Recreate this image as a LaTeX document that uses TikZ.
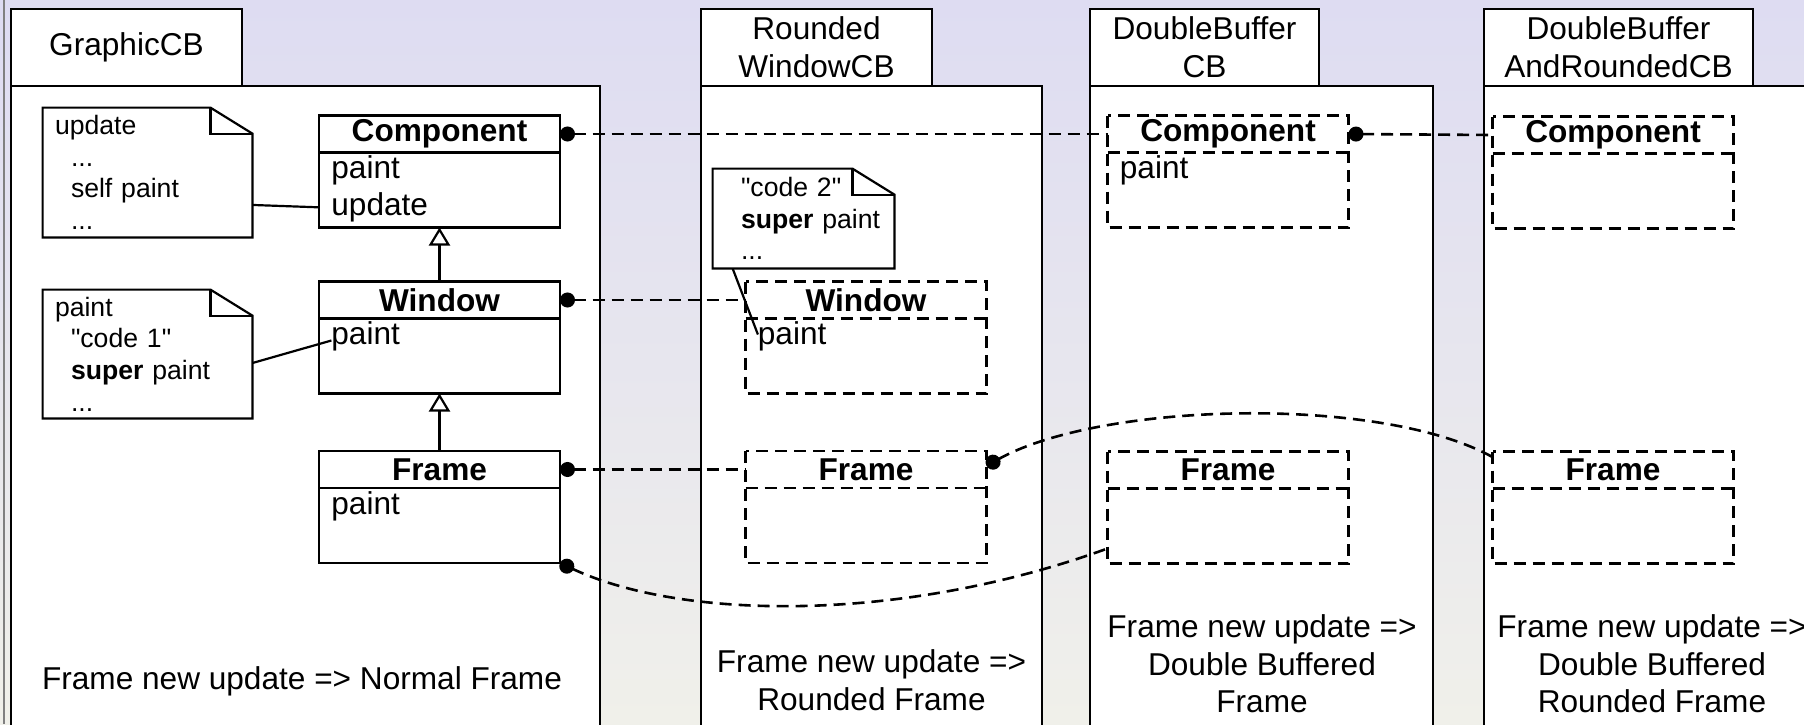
\documentclass[tikz,border=0pt]{standalone}
\usepackage{fontspec}
\setmainfont[Ligatures=TeXOff]{Liberation Sans}
\usetikzlibrary{positioning}
\usetikzlibrary{calc}
\usetikzlibrary{arrows.meta}
\definecolor{bgtop}{RGB}{222,220,242}
\definecolor{bgbottom}{RGB}{240,240,234}
\tikzset{
tabbox/.style={
  draw=black, fill=white, line width=1.2pt,
  inner sep=0pt, outer sep=0pt,
  align=center,
  minimum height=38.5pt,
  font=\fontsize{15.8}{18.8}\selectfont
  },
cbbody/.style={
  draw=black, fill=white, line width=1.2pt,
  inner sep=0pt, outer sep=0pt, anchor=north west,
  minimum height=330pt
  },
cls/.style={
  draw=black, line width=1.2pt,
  inner sep=0pt, outer sep=0pt,
  minimum width=120.5pt, minimum height=18.5pt,
  font=\fontsize{15.8}{18.8}\selectfont\bfseries
  },
clsbody/.style={
  draw=black, line width=1.2pt,
  inner sep=0pt, outer sep=0pt,
  minimum width=120.5pt, minimum height=37.5pt
  },
ghost/.style={dash pattern=on 6pt off 3.5pt},
attr/.style={
  anchor=base west, inner xsep=6pt, inner ysep=0pt,
  font=\fontsize{15.8}{18.8}\selectfont
  },
note/.style={
  inner xsep=6pt, inner ysep=0pt, align=left,
  text width=92.5pt,
  minimum width=104.5pt, minimum height=64.5pt,
  font=\fontsize{13.3}{15.8}\selectfont
  },
caption/.style={align=center, font=\fontsize{15.8}{18.8}\selectfont},
link/.style={line width=1.3pt, ghost, {Circle[length=7.5pt]}-},
gen/.style={line width=1.1pt, -{Triangle[open, length=9pt, width=10.5pt]}}
}
% note outline with folded corner
\newcommand\dogear[1]{%
  \draw[line width=1.1pt] (#1.south west) -- (#1.north west)
    -- ([xshift=-21pt]#1.north east) -- ([yshift=-13pt]#1.north east)
    -- (#1.south east) -- cycle;
  \draw[line width=1.1pt] ([xshift=-21pt]#1.north east) |- ([yshift=-13pt]#1.north east);
}
% dashed outline of an inherited class: head + body drawn once
\newcommand\ghostbox[1]{%
  \draw[ghost, line width=1.2pt] (#1head.north west) rectangle (#1body.south east);
  \draw[ghost, line width=1.2pt] (#1head.south west) -- (#1head.south east);
}
\begin{document}
\begin{tikzpicture}[x=0.5pt,y=-0.5pt]
\path[use as bounding box] (0,0) rectangle (1804,724);
\clip (0,0) rectangle (1804,724);
\shade[top color=bgtop, bottom color=bgbottom] (0,0) rectangle (1804,724);
\draw[gray, line width=1pt] (4,0) -- (4,724);

% class boxes (columns)
\node[cbbody, minimum width=294.5pt] (cb1) at (11,86) {};
\node[tabbox, minimum width=115.5pt, above right=0pt of cb1.north west] (tab1) {GraphicCB};
\node[cbbody, minimum width=170.5pt] (cb2) at (701,86) {};
\node[tabbox, minimum width=115.5pt, above right=0pt of cb2.north west] (tab2) {Rounded\\WindowCB};
\node[cbbody, minimum width=171.5pt] (cb3) at (1090,86) {};
\node[tabbox, minimum width=114.5pt, above right=0pt of cb3.north west] (tab3) {DoubleBuffer\\CB};
\node[cbbody, minimum width=165.5pt] (cb4) at (1484,86) {};
\node[tabbox, minimum width=134.5pt, above right=0pt of cb4.north west] (tab4) {DoubleBuffer\\AndRoundedCB};

% GraphicCB
\node[cls] (c1head) at (439.5,134) {Component};
\node[clsbody, below=0pt of c1head] (c1body) {};
\node[attr] (c1paint) at ([yshift=-13pt]c1body.north west) {paint};
\node[attr] (c1update) at ([yshift=-31.5pt]c1body.north west) {update};
\node[cls] (w1head) at (439.5,300) {Window};
\node[clsbody, below=0pt of w1head] (w1body) {};
\node[attr] (w1paint) at ([yshift=-13pt]w1body.north west) {paint};
\node[cls] (f1head) at (439.5,469.5) {Frame};
\node[clsbody, below=0pt of f1head] (f1body) {};
\node[attr] (f1paint) at ([yshift=-13pt]f1body.north west) {paint};
\draw[gen] (w1head.north) -- (c1body.south);
\draw[gen] (f1head.north) -- (w1body.south);

% RoundedWindowCB
\node[cls, draw=none] (w2head) at (866,300) {Window};
\node[clsbody, draw=none, below=0pt of w2head] (w2body) {};
\ghostbox{w2}
\node[attr] (w2paint) at ([yshift=-13pt]w2body.north west) {paint};
\node[cls, draw=none] (f2head) at (866,469.5) {Frame};
\node[clsbody, draw=none, below=0pt of f2head] (f2body) {};
\ghostbox{f2}

% DoubleBufferCB
\node[cls, draw=none] (c3head) at (1228,134) {Component};
\node[clsbody, draw=none, below=0pt of c3head] (c3body) {};
\ghostbox{c3}
\node[attr] (c3paint) at ([yshift=-13pt]c3body.north west) {paint};
\node[cls, draw=none] (f3head) at (1228,470) {Frame};
\node[clsbody, draw=none, below=0pt of f3head] (f3body) {};
\ghostbox{f3}

% DoubleBufferAndRoundedCB
\node[cls, draw=none] (c4head) at (1613,135) {Component};
\node[clsbody, draw=none, below=0pt of c4head] (c4body) {};
\ghostbox{c4}
\node[cls, draw=none] (f4head) at (1613,470) {Frame};
\node[clsbody, draw=none, below=0pt of f4head] (f4body) {};
\ghostbox{f4}

% notes
\node[note] (note1) at (147.5,172.5) {update\\\hspace*{8pt}...\\\hspace*{8pt}self paint\\\hspace*{8pt}...};
\dogear{note1}
\node[note, minimum height=64pt] (note2) at (147.5,354) {paint\\\hspace*{8pt}"code 1"\\\hspace*{8pt}\textbf{super} paint\\\hspace*{8pt}...};
\dogear{note2}
\node[note, text width=78.5pt, minimum width=90.5pt, minimum height=49.5pt] (note3) at (803.5,218.5) {\hspace*{8pt}"code 2"\\\hspace*{8pt}\textbf{super} paint\\\hspace*{8pt}...};
\dogear{note3}
\draw[line width=1.1pt] ($(note1.south east)!0.25!(note1.north east)$) -- (c1update.west);
\draw[line width=1.1pt] ($(note2.south east)!0.43!(note2.north east)$) -- ([yshift=2pt]w1paint.text);
\draw[line width=1.1pt] ($(note3.south west)!0.11!(note3.south east)$) -- ([yshift=5pt]w2paint.text);

% links between the class boxes
\draw[link] (c1head.east) -- (c3head.west);
\draw[link] (w1head.east) -- (w2head.west);
\draw[link] (f1head.east) -- (f2head.west);
\draw[link] (c3head.east) -- (c4head.west);
\draw[link] ($(f2head.north east)!0.4!(f2head.south east)$)
  .. controls +(115,-64) and +(-112,-62) .. ($(f4head.north west)!0.15!(f4head.south west)$);
\draw[link] (f1body.south east)
  .. controls +(122,57) and +(-207,75) .. ($(f3body.north west)!0.8!(f3body.south west)$);

% results
\node[caption] (cap1) at (302,681) {Frame new update => Normal Frame};
\node[caption] (cap2) at (871.5,680) {Frame new update =>\\Rounded Frame};
\node[caption] (cap3) at (1262,664) {Frame new update =>\\Double Buffered\\Frame};
\node[caption] (cap4) at (1652,664) {Frame new update =>\\Double Buffered\\Rounded Frame};
\end{tikzpicture}
\end{document}
